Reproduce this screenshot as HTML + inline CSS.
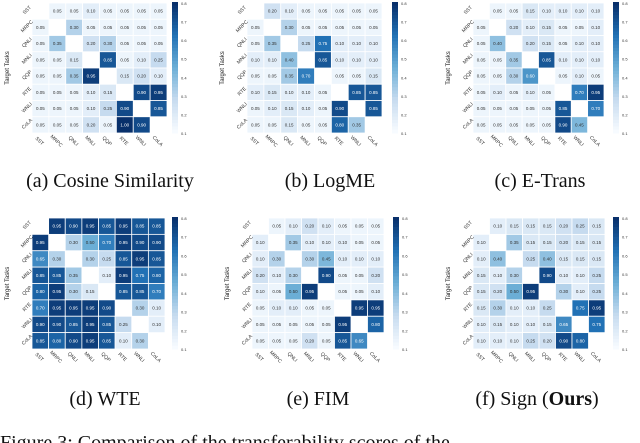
<!DOCTYPE html>
<html><head><meta charset="utf-8">
<style>
html,body{margin:0;padding:0;background:#fff;width:640px;height:443px;overflow:hidden}
svg{display:block}
.cap{font-family:"Liberation Serif",serif;font-size:20px;fill:#111}
</style></head>
<body>
<svg id="fig" width="640" height="443" viewBox="0 0 640 443"></svg>
<script>
const taskLabels = ["SST","MRPC","QNLI","MNLI","QQP","RTE","WNLI","CoLA"];
const cosineValues = [
[0,.05,.05,.1,.05,.05,.05,.05],[.05,0,.3,.05,.05,.05,.05,.05],[.05,.35,0,.2,.3,.05,.05,.05],[.05,.05,.15,0,.85,.05,.1,.25],
[.05,.05,.35,.95,0,.15,.2,.1],[.05,.05,.05,.1,.15,0,.9,.95],[.05,.05,.05,.1,.25,.9,0,.85],[.05,.05,.05,.2,.05,1,.9,0]];
const logmeValues = [
[0,.2,.1,.05,.05,.05,.05,.05],[.05,0,.3,.05,.05,.05,.05,.05],[.05,.35,0,.25,.75,.1,.1,.1],[.1,.1,.4,0,.85,.1,.1,.1],
[.05,.05,.35,.7,0,.05,.05,.15],[.1,.15,.1,.1,.05,0,.85,.85],[.05,.1,.15,.1,.05,.9,0,.85],[.05,.05,.15,.05,.05,.8,.35,0]];
const etransValues = [
[0,.05,.05,.15,.1,.1,.1,.1],[.05,0,.2,.1,.15,.05,.05,.1],[.05,.4,0,.2,.15,.05,.1,.1],[.05,.05,.35,0,.85,.1,.1,.1],
[.05,.05,.3,.6,0,.05,.1,.05],[.05,.1,.05,.1,.05,0,.7,.95],[.05,.05,.05,.05,.05,.85,0,.7],[.05,.05,.05,.05,.05,.9,.45,0]];
const wteValues = [
[0,.95,.9,.95,.85,.95,.85,.85],[.95,0,.3,.5,.7,.95,.9,.9],[.65,.3,0,.3,.25,.85,.95,.85],[.85,.85,.35,0,.1,.95,.75,.8],
[.8,.95,.3,.15,0,.85,.85,.7],[.7,.95,.95,.95,.9,0,.3,.1],[.9,.9,.85,.95,.85,.25,0,.1],[.85,.8,.9,.95,.85,.1,.3,0]];
const fimValues = [
[0,.05,.1,.2,.1,.05,.05,.05],[.1,0,.35,.1,.1,.1,.05,.05],[.1,.3,0,.3,.45,.1,.1,.1],[.2,.1,.3,0,.9,.05,.05,.2],
[.1,.05,.5,.95,0,.05,.05,.1],[.05,.1,.1,.05,.05,0,.95,.95],[.05,.05,.05,.05,.05,.95,0,.8],[.05,.05,.05,.2,.05,.85,.65,0]];
const signValues = [
[0,.1,.15,.15,.15,.2,.25,.15],[.1,0,.35,.15,.15,.2,.15,.15],[.1,.4,0,.25,.4,.15,.15,.15],[.15,.1,.3,0,.9,.1,.1,.25],
[.15,.2,.5,.95,0,.3,.1,.25],[.15,.3,.1,.1,.25,0,.75,.95],[.1,.15,.1,.1,.15,.65,0,.75],[.1,.1,.1,.25,.2,.9,.8,0]];

const NS="http://www.w3.org/2000/svg";
const svg=document.getElementById("fig");
const stops=[[247,251,255],[198,219,239],[107,174,214],[33,113,181],[8,48,107]];
function blues(v){v=Math.max(0,Math.min(1,v));const t=v*4,i=Math.min(3,Math.floor(t)),f=t-i;
 const c=stops[i].map((a,k)=>Math.round(a+(stops[i+1][k]-a)*f));return `rgb(${c})`;}
function mk(tag,attrs,parent){const e=document.createElementNS(NS,tag);for(const k in attrs)e.setAttribute(k,attrs[k]);(parent||svg).appendChild(e);return e;}

const panels=[
 {name:"cosine",vals:cosineValues,x0:32,x1:167,y0:3,y1:133,cb:172,cap:"(a) Cosine Similarity",cx:110,cy:187},
 {name:"logme",vals:logmeValues,x0:247,x1:382,y0:3,y1:133,cb:392,cap:"(b) LogME",cx:330,cy:187},
 {name:"etrans",vals:etransValues,x0:473,x1:604,y0:3,y1:133,cb:613,cap:"(c) E-Trans",cx:540,cy:187},
 {name:"wte",vals:wteValues,x0:32,x1:165,y0:218,y1:349,cb:172,cap:"(d) WTE",cx:105,cy:405},
 {name:"fim",vals:fimValues,x0:252,x1:384,y0:218,y1:349,cb:393,cap:"(e) FIM",cx:318,cy:405},
 {name:"sign",vals:signValues,x0:473,x1:605,y0:218,y1:349,cb:613,cap:"",cx:537,cy:405}
];
panels.forEach(p=>{
 const g=mk("g",{});
 
 
 const n=taskLabels.length,cw=(p.x1-p.x0)/n,ch=(p.y1-p.y0)/n;
 const xs=i=>p.x0+i*cw, ys=j=>p.y0+j*ch;
 p.vals.forEach((row,r)=>row.forEach((v,c)=>{
  if(r===c)return;
  const rect=mk("rect",{x:xs(c),y:ys(r),width:cw,height:ch,fill:blues(v),stroke:"#fff","stroke-width":0.8},g);
  
  
  const t=mk("text",{x:xs(c)+cw/2,y:ys(r)+ch/2+1.5,"text-anchor":"middle","font-size":4.5,"font-family":"Liberation Sans, sans-serif",fill:v>0.5?"#fff":"#333"},g);
  t.textContent=v.toFixed(2);
 }));
 taskLabels.forEach((lab,i)=>{
  const ty=mk("text",{transform:`translate(${p.x0-4},${ys(i)+ch/2}) rotate(-45)`,"text-anchor":"middle","font-size":5,"font-family":"Liberation Sans, sans-serif",fill:"#333"},g);
  ty.textContent=lab;
  const tx=mk("text",{transform:`translate(${xs(i)+cw/2-2},${p.y1+9}) rotate(45)`,"text-anchor":"middle","font-size":5,"font-family":"Liberation Sans, sans-serif",fill:"#333"},g);
  tx.textContent=lab;
 });
 const yt=mk("text",{transform:`translate(${p.x0-23},${(p.y0+p.y1)/2}) rotate(-90)`,"text-anchor":"middle","font-size":6,"font-family":"Liberation Sans, sans-serif",fill:"#222"},g);
 yt.textContent="Target Tasks";
 for(let k=0;k<40;k++){
  mk("rect",{x:p.cb,y:p.y0-1+k*(p.y1-p.y0+1)/40,width:6,height:(p.y1-p.y0+1)/40+0.5,fill:blues(1-k/39)},g);
 }
 for(let k=0;k<8;k++){
  const tt=mk("text",{x:p.cb+9,y:p.y0+2+k*(p.y1-p.y0)/7,"font-size":4,"font-family":"Liberation Sans, sans-serif",fill:"#333"},g);
  tt.textContent=(0.8-k*0.1).toFixed(1);
 }
 if(p.cap){const c=mk("text",{x:p.cx,y:p.cy,"text-anchor":"middle",class:"cap"});c.textContent=p.cap;
  }
});
const sc=mk("text",{x:537,y:405,"text-anchor":"middle",class:"cap"});


sc.innerHTML='(f) Sign (<tspan font-weight="bold">Ours</tspan>)';
const fc=mk("text",{x:0,y:449,class:"cap",fill:"#444"});


fc.textContent="Figure 3: Comparison of the transferability scores of the";
</script>
</body></html>
